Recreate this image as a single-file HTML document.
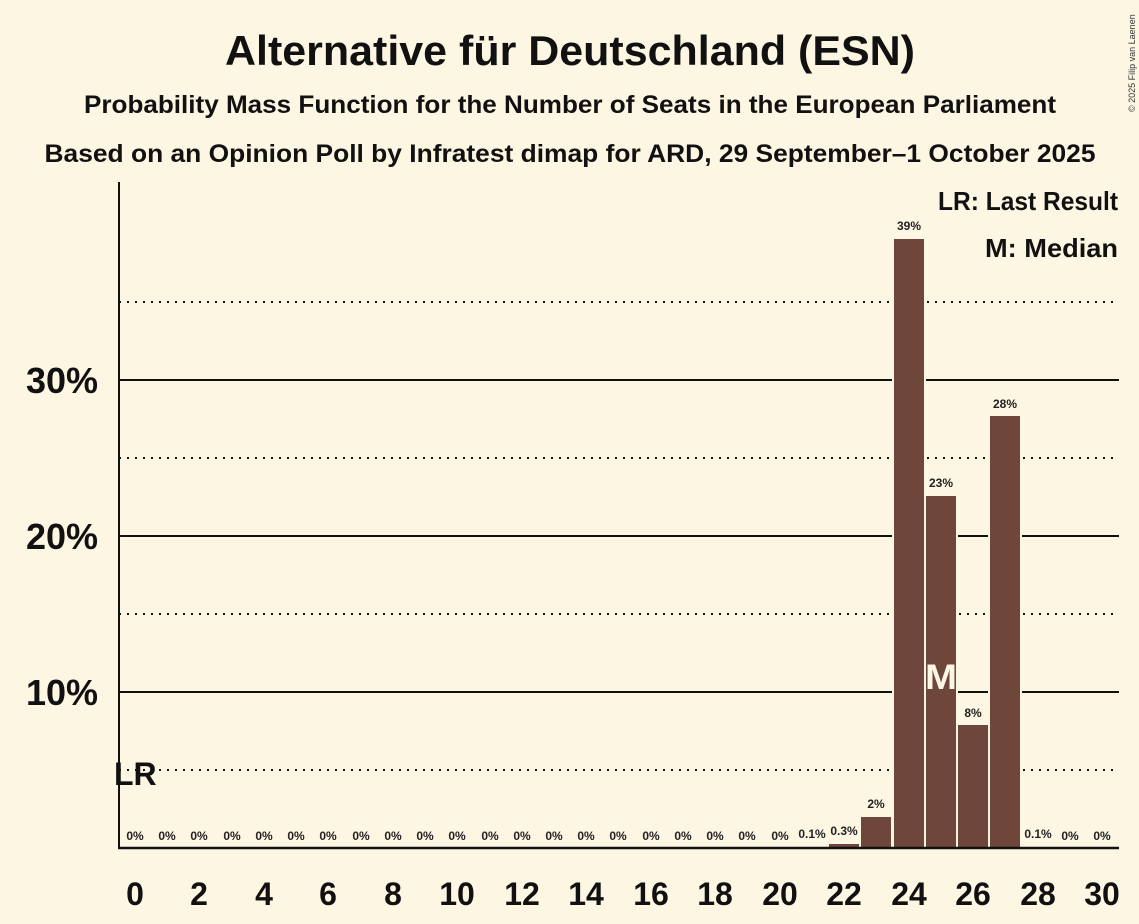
<!DOCTYPE html>
<html><head><meta charset="utf-8"><style>
html,body{margin:0;padding:0;background:#fdf6e3;}
svg{display:block;font-family:"Liberation Sans",sans-serif;}
</style></head><body>
<svg width="1139" height="924" viewBox="0 0 1139 924" xmlns="http://www.w3.org/2000/svg">
<rect width="1139" height="924" fill="#fdf6e3"/>
<text x="570" y="65" text-anchor="middle" font-size="42" font-weight="bold" fill="#111" textLength="690" lengthAdjust="spacingAndGlyphs">Alternative für Deutschland (ESN)</text>
<text x="570" y="113" text-anchor="middle" font-size="25" font-weight="bold" fill="#111" textLength="972" lengthAdjust="spacingAndGlyphs">Probability Mass Function for the Number of Seats in the European Parliament</text>
<text x="570" y="162" text-anchor="middle" font-size="25" font-weight="bold" fill="#111" textLength="1051" lengthAdjust="spacingAndGlyphs">Based on an Opinion Poll by Infratest dimap for ARD, 29 September–1 October 2025</text>
<text transform="translate(1135,112) rotate(-90)" font-size="9" fill="#333">© 2025 Filip van Laenen</text>
<g stroke="#111" stroke-width="2" stroke-dasharray="2,6">
<line x1="119" y1="770" x2="1119" y2="770"/>
<line x1="119" y1="614" x2="1119" y2="614"/>
<line x1="119" y1="458" x2="1119" y2="458"/>
<line x1="119" y1="302" x2="1119" y2="302"/>
</g>
<g stroke="#111" stroke-width="2">
<line x1="119" y1="692" x2="1119" y2="692"/>
<line x1="119" y1="536" x2="1119" y2="536"/>
<line x1="119" y1="380" x2="1119" y2="380"/>
</g>
<g font-size="36" font-weight="bold" fill="#111" text-anchor="end">
<text x="98" y="393">30%</text>
<text x="98" y="549">20%</text>
<text x="98" y="705">10%</text>
</g>
<g fill="#6f463a" stroke="#fdf6e3" stroke-width="2">
<rect x="796" y="846" width="32" height="3"/>
<rect x="828" y="843" width="32" height="6"/>
<rect x="860" y="816" width="32" height="33"/>
<rect x="893" y="238" width="32" height="611"/>
<rect x="925" y="495" width="32" height="354"/>
<rect x="957" y="724" width="32" height="125"/>
<rect x="989" y="415" width="32" height="434"/>
<rect x="1022" y="846" width="32" height="3"/>
</g>
<text x="941" y="689" text-anchor="middle" font-size="35" font-weight="bold" fill="#fdf6e3" textLength="32" lengthAdjust="spacingAndGlyphs">M</text>
<line x1="119" y1="182" x2="119" y2="849" stroke="#111" stroke-width="2"/>
<line x1="118" y1="848" x2="1119" y2="848" stroke="#111" stroke-width="2.5"/>
<text x="114" y="785" font-size="32" font-weight="bold" fill="#111">LR</text>
<g font-size="12" font-weight="bold" fill="#222" text-anchor="middle">
<text x="135" y="840">0%</text><text x="167" y="840">0%</text><text x="199" y="840">0%</text><text x="232" y="840">0%</text><text x="264" y="840">0%</text><text x="296" y="840">0%</text><text x="328" y="840">0%</text><text x="361" y="840">0%</text><text x="393" y="840">0%</text><text x="425" y="840">0%</text><text x="457" y="840">0%</text><text x="490" y="840">0%</text><text x="522" y="840">0%</text><text x="554" y="840">0%</text><text x="586" y="840">0%</text><text x="618" y="840">0%</text><text x="651" y="840">0%</text><text x="683" y="840">0%</text><text x="715" y="840">0%</text><text x="747" y="840">0%</text><text x="780" y="840">0%</text>
<text x="812" y="838">0.1%</text><text x="844" y="835">0.3%</text><text x="876" y="808">2%</text><text x="909" y="230">39%</text><text x="941" y="487">23%</text><text x="973" y="717">8%</text><text x="1005" y="408">28%</text><text x="1038" y="838">0.1%</text><text x="1070" y="840">0%</text><text x="1102" y="840">0%</text>
</g>
<g font-size="32" font-weight="bold" fill="#111" text-anchor="middle">
<text x="135" y="905">0</text><text x="199" y="905">2</text><text x="264" y="905">4</text><text x="328" y="905">6</text><text x="393" y="905">8</text><text x="457" y="905">10</text><text x="522" y="905">12</text><text x="586" y="905">14</text><text x="651" y="905">16</text><text x="715" y="905">18</text><text x="780" y="905">20</text><text x="844" y="905">22</text><text x="909" y="905">24</text><text x="973" y="905">26</text><text x="1038" y="905">28</text><text x="1102" y="905">30</text>
</g>
<g font-size="26" font-weight="bold" fill="#111" text-anchor="end">
<text x="1118" y="210" textLength="180" lengthAdjust="spacingAndGlyphs">LR: Last Result</text>
<text x="1118" y="257" textLength="133" lengthAdjust="spacingAndGlyphs">M: Median</text>
</g>
</svg>
</body></html>
